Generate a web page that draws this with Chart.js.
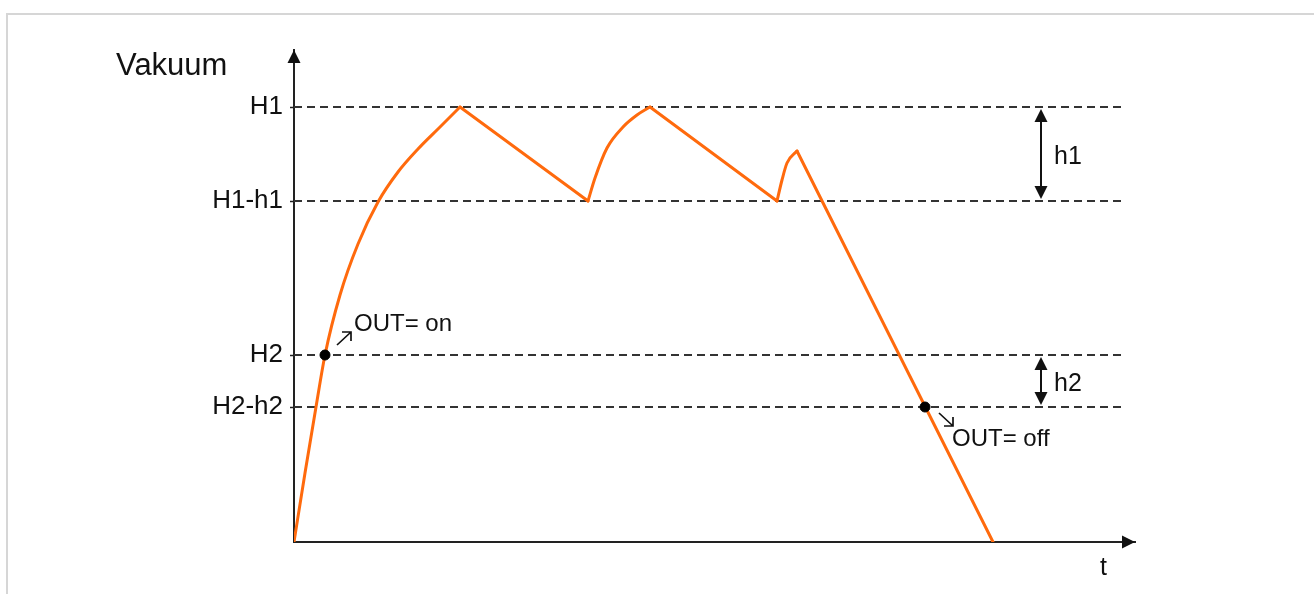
<!DOCTYPE html>
<html>
<head>
<meta charset="utf-8">
<script src="https://cdn.jsdelivr.net/npm/chart.js@4/dist/chart.umd.min.js"></script>
<style>
    body { margin: 0; background: #fff; }
    #frame { position: absolute; left: 6px; top: 13px; width: 1330px; height: 600px;
        border-top: 2px solid #d6d6d6; border-left: 2px solid #d6d6d6; }
    #wrap { position: absolute; left: 0; top: 0; width: 1314px; height: 594px; }
</style>
</head>
<body>
<div id="frame"></div>
<div id="wrap"><canvas id="chart"></canvas></div>
<script>
// switching levels (y ticks)
const thresholdNames = ['H2-h2', 'H2', 'H1-h1', 'H1'];
const thresholdValues = [135, 187, 341, 435];

// vacuum curve
const riseT = [0, 11, 22, 31, 46, 64, 84, 104, 124, 145, 166];
const riseV = [0, 69, 135, 187, 247, 298, 340, 370, 393, 414, 435];
const fall1T = [166, 294];
const fall1V = [435, 341];
const hump2T = [294, 301, 313, 329, 343, 356];
const hump2V = [341, 364, 394, 415, 427, 435];
const fall2T = [356, 483];
const fall2V = [435, 341];
const hump3T = [483, 488, 493, 503];
const hump3V = [341, 362, 379, 391];
const fall3T = [503, 699];
const fall3V = [391, 0];

// OUT switching points
const switchT = [31, 631];
const switchV = [187, 135];

const xMax = 841;
const yMax = 492;
const dashEnd = 827;
const hystT = 747;

const FONT = "'Liberation Sans', Arial, sans-serif";
const ORANGE = '#ff6a0d';

function pts(ts, vs) {
    return ts.map((t, i) => ({ x: t, y: vs[i] }));
}

function curve(ts, vs, smooth) {
    return {
        data: pts(ts, vs),
        borderColor: ORANGE,
        borderWidth: 3,
        pointRadius: 0,
        showLine: true,
        fill: false,
        cubicInterpolationMode: smooth ? 'monotone' : 'default',
        tension: 0,
        borderCapStyle: 'round',
        borderJoinStyle: 'round',
        order: 2,
    };
}

let datasets = thresholdValues.map(v => ({
    data: [{ x: 0, y: v }, { x: dashEnd, y: v }],
    borderColor: '#333',
    borderWidth: 2,
    borderDash: [8, 5],
    pointRadius: 0,
    showLine: true,
    order: 3,
}));

datasets.push(curve(riseT, riseV, true));
datasets.push(curve(fall1T, fall1V, false));
datasets.push(curve(hump2T, hump2V, true));
datasets.push(curve(fall2T, fall2V, false));
datasets.push(curve(hump3T, hump3V, true));
datasets.push(curve(fall3T, fall3V, false));

datasets.push({
    data: pts(switchT, switchV),
    showLine: false,
    pointRadius: 5,
    pointBackgroundColor: '#000',
    pointBorderColor: '#000',
    order: 1,
});

function head(ctx, x, y, dir) {
    // filled triangle, tip at x,y
    let L = 13, W = 6.5;
    ctx.beginPath();
    ctx.moveTo(x, y);
    if (dir == 'up') { ctx.lineTo(x - W, y + L); ctx.lineTo(x + W, y + L); }
    if (dir == 'down') { ctx.lineTo(x - W, y - L); ctx.lineTo(x + W, y - L); }
    if (dir == 'right') { ctx.lineTo(x - L, y - W); ctx.lineTo(x - L, y + W); }
    ctx.closePath();
    ctx.fill();
}

function smallArrow(ctx, x1, y1, x2, y2) {
    ctx.beginPath();
    ctx.moveTo(x1, y1);
    ctx.lineTo(x2, y2);
    let sx = x2 > x1 ? -1 : 1;
    let sy = y2 > y1 ? -1 : 1;
    ctx.moveTo(x2 + sx * 9, y2);
    ctx.lineTo(x2, y2);
    ctx.lineTo(x2, y2 + sy * 9);
    ctx.stroke();
}

const annotate = {
    id: 'annotate',
    afterDatasetsDraw(chart) {
        const ctx = chart.ctx;
        const a = chart.chartArea;
        const xs = chart.scales.x;
        const ys = chart.scales.y;
        ctx.save();
        ctx.fillStyle = '#111';
        ctx.strokeStyle = '#111';

        // axis arrows
        head(ctx, a.left, a.top, 'up');
        head(ctx, a.right, a.bottom, 'right');

        // hysteresis double arrows
        ctx.lineWidth = 2;
        let hx = xs.getPixelForValue(hystT);
        [[thresholdValues[2], thresholdValues[3], 'h1'], [thresholdValues[0], thresholdValues[1], 'h2']].forEach(p => {
            let yLo = ys.getPixelForValue(p[0]);
            let yHi = ys.getPixelForValue(p[1]);
            ctx.beginPath();
            ctx.moveTo(hx, yHi + 8);
            ctx.lineTo(hx, yLo - 8);
            ctx.stroke();
            head(ctx, hx, yHi + 2, 'up');
            head(ctx, hx, yLo - 2, 'down');
            ctx.font = '25px ' + FONT;
            ctx.textAlign = 'left';
            ctx.textBaseline = 'alphabetic';
            ctx.fillText(p[2], hx + 13, (yLo + yHi) / 2 + 10);
        });

        // OUT labels
        ctx.lineWidth = 1.7;
        let onX = xs.getPixelForValue(switchT[0]);
        let onY = ys.getPixelForValue(switchV[0]);
        smallArrow(ctx, onX + 12, onY - 10, onX + 26, onY - 23);
        ctx.font = '24px ' + FONT;
        ctx.fillText('OUT= on', onX + 29, onY - 24);

        let offX = xs.getPixelForValue(switchT[1]);
        let offY = ys.getPixelForValue(switchV[1]);
        smallArrow(ctx, offX + 14, offY + 6, offX + 28, offY + 19);
        ctx.fillText('OUT= off', offX + 27, offY + 39);

        // axis names
        ctx.font = '25px ' + FONT;
        ctx.fillText('t', a.right - 35, a.bottom + 33);
        ctx.font = '31px ' + FONT;
        ctx.fillText('Vakuum', 116, a.top + 25);
        ctx.restore();
    }
};

var myChart = new Chart(
    document.getElementById('chart'),
    {
        type: 'scatter',
        data: { datasets: datasets },
        options: {
            responsive: true,
            maintainAspectRatio: false,
            animation: false,
            layout: { padding: { left: 0, top: 50, right: 179, bottom: 0 } },
            plugins: {
                legend: { display: false },
                tooltip: { enabled: false },
            },
            scales: {
                x: {
                    type: 'linear',
                    min: 0,
                    max: xMax,
                    grid: { display: false },
                    ticks: { display: false },
                    border: { display: true, color: '#222', width: 2 },
                    afterFit: (scale) => { scale.height = 52; },
                },
                y: {
                    type: 'linear',
                    min: 0,
                    max: yMax,
                    afterBuildTicks: (scale) => {
                        scale.ticks = thresholdValues.map(v => ({ value: v }));
                    },
                    afterFit: (scale) => { scale.width = 294; },
                    grid: {
                        drawOnChartArea: false,
                        drawTicks: true,
                        tickLength: 4,
                        tickColor: '#222',
                        tickWidth: 1.5,
                    },
                    border: { display: true, color: '#222', width: 2 },
                    ticks: {
                        padding: 7,
                        color: '#111',
                        font: { family: FONT, size: 26 },
                        callback: (value) => thresholdNames[thresholdValues.indexOf(value)],
                    },
                },
            },
        },
        plugins: [annotate],
    }
);
</script>
</body>
</html>
